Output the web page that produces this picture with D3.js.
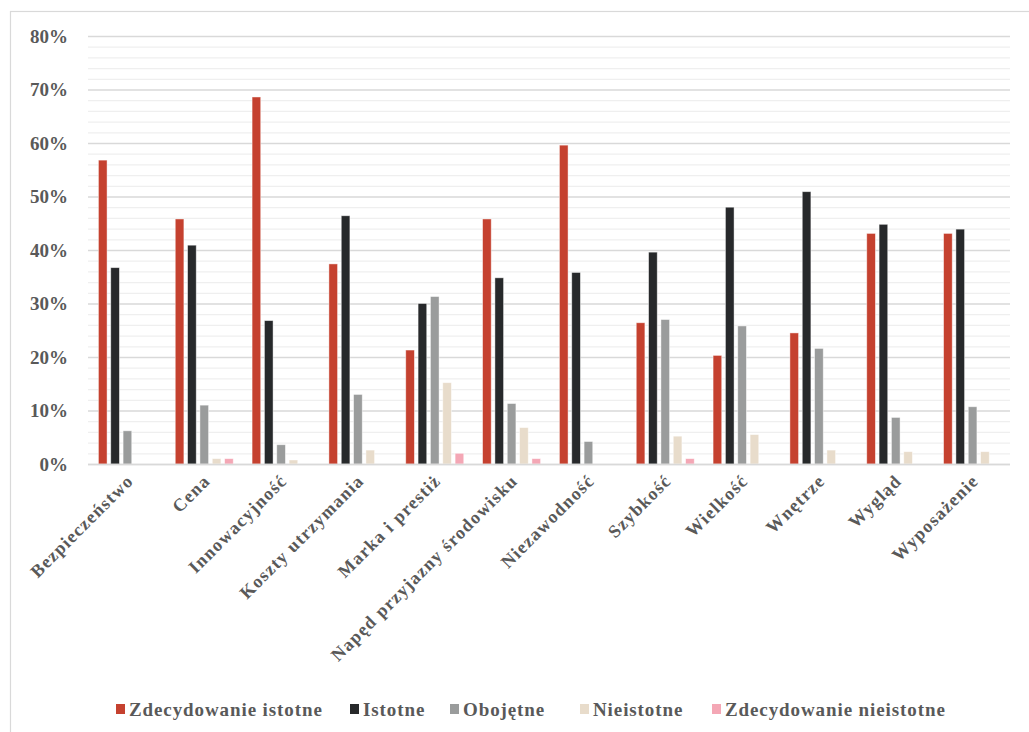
<!DOCTYPE html>
<html>
<head>
<meta charset="utf-8">
<script src="https://cdn.jsdelivr.net/npm/d3@7"></script>
<style>
  body { margin: 0; background: #fff; }
  text { font-family: "Liberation Serif", "Times New Roman", serif; fill: #595959; }
</style>
</head>
<body>
<svg width="1029" height="732"></svg>
<script>
var categories = ["Bezpieczeństwo", "Cena", "Innowacyjność", "Koszty utrzymania", "Marka i prestiż",
  "Napęd przyjazny środowisku", "Niezawodność", "Szybkość", "Wielkość", "Wnętrze", "Wygląd", "Wyposażenie"];
var seriesNames = ["Zdecydowanie istotne", "Istotne", "Obojętne", "Nieistotne", "Zdecydowanie nieistotne"];
var seriesColors = ["#c5412f", "#27292b", "#9a9c9c", "#e8dccb", "#f4a7b5"];
var zdecIstotne = [56.8, 45.8, 68.6, 37.4, 21.3, 45.8, 59.6, 26.4, 20.3, 24.5, 43.1, 43.1];
var istotne = [36.7, 40.9, 26.8, 46.4, 30.0, 34.8, 35.8, 39.6, 48.0, 50.9, 44.8, 43.9];
var obojetne = [6.2, 11.0, 3.6, 13.0, 31.3, 11.3, 4.2, 27.0, 25.8, 21.6, 8.7, 10.7];
var nieistotne = [0, 1.0, 0.75, 2.6, 15.2, 6.8, 0, 5.2, 5.5, 2.6, 2.3, 2.3];
var zdecNieistotne = [0, 1.0, 0, 0, 2.0, 1.0, 0, 1.0, 0, 0, 0, 0];
var yTicks = [0, 10, 20, 30, 40, 50, 60, 70, 80];

var seriesValues = [zdecIstotne, istotne, obojetne, nieistotne, zdecNieistotne];

var svg = d3.select("svg");

// outer chart frame (runs off the right/bottom edge like the source)
svg.append("rect")
  .attr("x", 10.5).attr("y", 11.5)
  .attr("width", 1040).attr("height", 740)
  .attr("fill", "none").attr("stroke", "#d9d9d9").attr("stroke-width", 1.2);

var plotLeft = 88, plotRight = 1010, plotTop = 36, plotBottom = 464;

var x0 = d3.scaleBand().domain(categories).range([plotLeft, plotRight]).padding(0);
var x1 = d3.scaleBand().domain(seriesNames).range([-29, 29]).paddingInner(0.3).paddingOuter(0);
var y = d3.scaleLinear().domain([0, 80]).range([plotBottom, plotTop]);

// minor gridlines every 2%
svg.append("g").selectAll("line")
  .data(d3.range(0, 81, 2).filter(function (v) { return v % 10 !== 0; }))
  .enter().append("line")
  .attr("x1", plotLeft).attr("x2", plotRight)
  .attr("y1", function (d) { return y(d) + 0.5; })
  .attr("y2", function (d) { return y(d) + 0.5; })
  .attr("stroke", "#efefef").attr("stroke-width", 1.3);

// major gridlines + y axis labels
var yAxis = svg.append("g")
  .attr("transform", "translate(" + plotLeft + ",0)")
  .call(d3.axisLeft(y).tickValues(yTicks).tickSize(-(plotRight - plotLeft)).tickPadding(20)
    .tickFormat(function (d) { return d + "%"; }));
yAxis.select(".domain").remove();
yAxis.selectAll("line").attr("stroke", "#d9d9d9").attr("stroke-width", 1.5);
yAxis.selectAll("text")
  .attr("font-size", 19).attr("font-weight", "bold")
  .attr("font-family", "Liberation Serif, serif")
  .attr("fill", "#595959").attr("dy", "0.33em");

// bars
var groups = svg.append("g").selectAll("g")
  .data(categories)
  .enter().append("g")
  .attr("transform", function (d) { return "translate(" + (x0(d) + x0.bandwidth() / 2 + 1) + ",0)"; });

groups.selectAll("rect")
  .data(function (d, i) {
    return seriesNames.map(function (s, j) { return { s: s, j: j, v: seriesValues[j][i] }; });
  })
  .enter().filter(function (d) { return d.v > 0; })
  .append("rect")
  .attr("x", function (d) { return x1(d.s); })
  .attr("width", x1.bandwidth())
  .attr("y", function (d) { return y(d.v); })
  .attr("height", function (d) { return y(0) - y(d.v); })
  .attr("fill", function (d) { return seriesColors[d.j]; })
  .attr("stroke", "#ffffff").attr("stroke-opacity", 0.55).attr("stroke-width", 0.8);

// x axis baseline
svg.append("line")
  .attr("x1", plotLeft).attr("x2", plotRight)
  .attr("y1", plotBottom + 0.5).attr("y2", plotBottom + 0.5)
  .attr("stroke", "#d9d9d9").attr("stroke-width", 1.5);

// x category labels, rotated
svg.append("g").selectAll("text")
  .data(categories)
  .enter().append("text")
  .attr("transform", function (d) {
    return "translate(" + (x0(d) + x0.bandwidth() / 2 + 8) + "," + (plotBottom + 18) + ") rotate(-45)";
  })
  .attr("text-anchor", "end")
  .attr("font-size", 18).attr("font-weight", "bold")
  .attr("letter-spacing", 1.2)
  .text(function (d) { return d; });

// legend
var legendX = [116, 350, 450, 580, 712];
var legend = svg.append("g").selectAll("g")
  .data(seriesNames)
  .enter().append("g")
  .attr("transform", function (d, i) { return "translate(" + legendX[i] + ",704)"; });
legend.append("rect")
  .attr("width", 9).attr("height", 10)
  .attr("fill", function (d, i) { return seriesColors[i]; });
legend.append("text")
  .attr("x", 13).attr("y", 12)
  .attr("font-size", 19).attr("font-weight", "bold")
  .attr("letter-spacing", 0.9)
  .text(function (d) { return d; });
</script>
</body>
</html>
